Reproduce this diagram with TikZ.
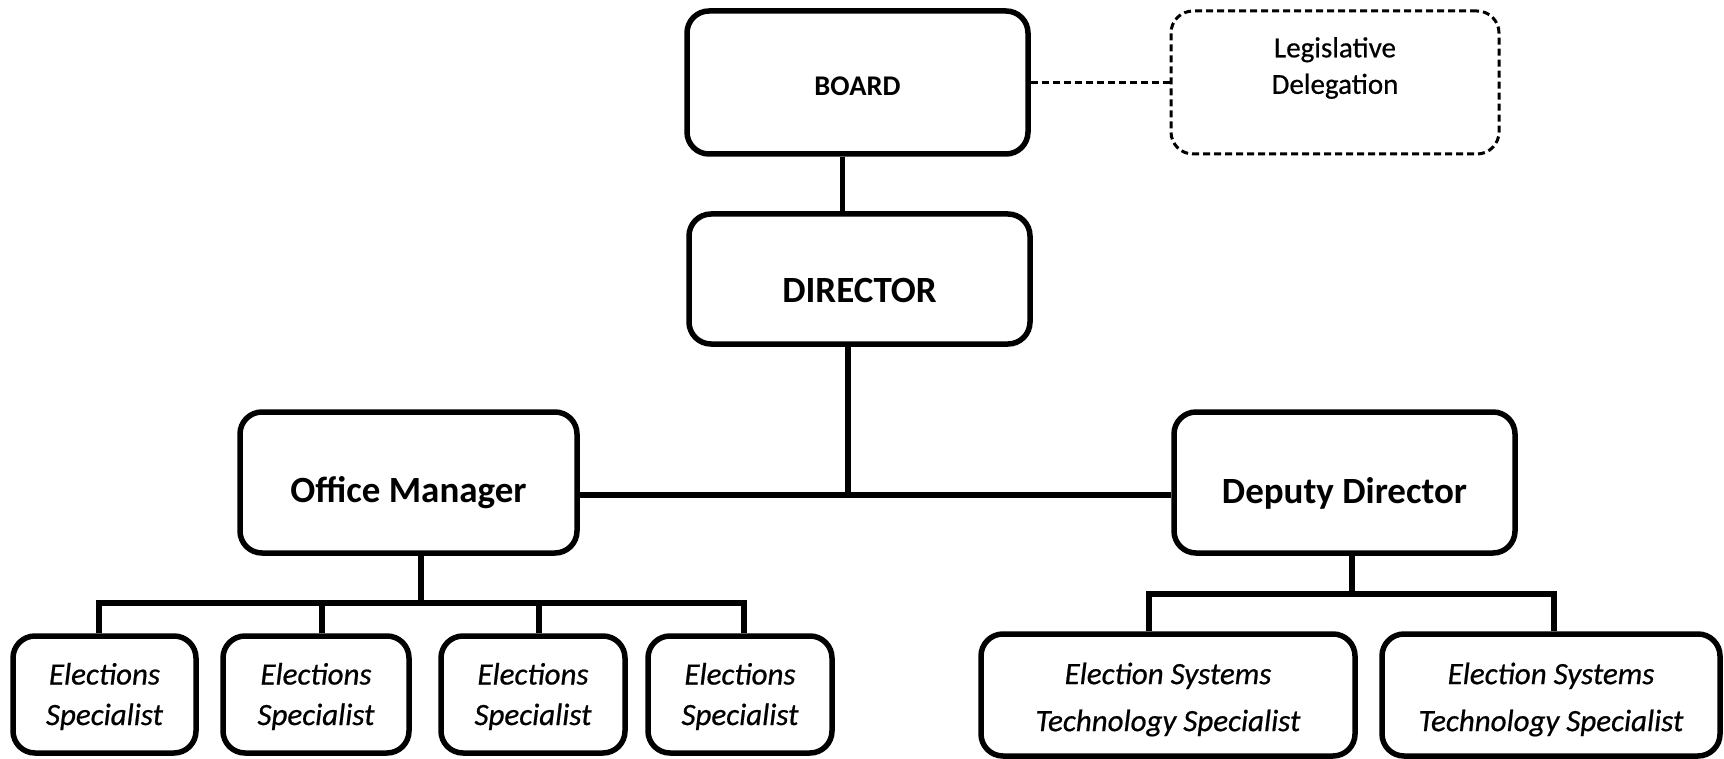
\documentclass[tikz,border=0pt]{standalone}
\usepackage{fontspec}
\setmainfont{Carlito}
\newfontfamily\heavyfont[FakeBold=0.6]{Carlito}
\begin{document}
\begin{tikzpicture}[x=1pt,y=-1pt,
  box/.style={draw=black, line width=5.5pt, rounded corners=22pt, inner sep=0pt},
  dashbox/.style={draw=black, line width=3pt, dash pattern=on 7pt off 4pt, rounded corners=22pt, inner sep=0pt},
  link/.style={draw=black, line width=5.5pt, line join=miter},
  dashlink/.style={draw=black, line width=3pt, dash pattern=on 7pt off 4pt},
  head/.style={inner sep=0pt, align=center, font=\fontsize{37}{44}\selectfont\bfseries},
  small head/.style={inner sep=0pt, align=center, font=\fontsize{28.5}{34}\selectfont\bfseries},
  note/.style={inner sep=0pt, align=center, font=\heavyfont\fontsize{29}{36.5}\selectfont},
  staff/.style={inner sep=0pt, align=center, font=\heavyfont\fontsize{31}{40.5}\selectfont\itshape},
  tech/.style={inner sep=0pt, align=center, font=\heavyfont\fontsize{31}{47}\selectfont\itshape}]
\useasboundingbox (0,0) rectangle (1724,759);

% boxes
\node[box, minimum width=341pt, minimum height=143pt] (board) at (857.5,82.5) {};
\node[dashbox, minimum width=328pt, minimum height=143pt] (leg) at (1335,82.5) {};
\node[box, minimum width=341pt, minimum height=130pt] (dir) at (859.5,279) {};
\node[box, minimum width=337pt, minimum height=141pt] (om) at (408.5,482.5) {};
\node[box, minimum width=341pt, minimum height=141pt] (dd) at (1344.5,482.5) {};
\node[box, minimum width=183pt, minimum height=117pt] (es1) at (104.5,694.5) {};
\node[box, minimum width=186pt, minimum height=117pt] (es2) at (316,694.5) {};
\node[box, minimum width=184pt, minimum height=117pt] (es3) at (533,694.5) {};
\node[box, minimum width=184pt, minimum height=117pt] (es4) at (740,694.5) {};
\node[box, minimum width=374pt, minimum height=122pt] (ests1) at (1168,695) {};
\node[box, minimum width=338pt, minimum height=122pt] (ests2) at (1551,695) {};

% labels
\node[small head] (board-t) at ([yshift=-4pt]board.center) {BOARD};
\node[note] (leg-t) at ([yshift=14.5pt]leg.center) {Legislative\\Delegation};
\node[head] (dir-t) at ([yshift=-11pt]dir.center) {DIRECTOR};
\node[head] (om-t) at ([yshift=-10.5pt]om.center) {Office Manager};
\node[head] (dd-t) at ([yshift=-11pt]dd.center) {Deputy Director};
\foreach \n in {es1,es2,es3,es4}
  \node[staff] (\n-t) at ([yshift=-2pt]\n.center) {Elections\\Specialist};
\foreach \n in {ests1,ests2}
  \node[tech] (\n-t) at ([yshift=-4.5pt]\n.center) {Election Systems\\Technology Specialist};

% junction points
\coordinate (hub) at (848,495);
\coordinate (omj) at (421,603);
\coordinate (d1) at (99,603);
\coordinate (d2) at (322,603);
\coordinate (d3) at (539,603);
\coordinate (d4) at (744,603);
\coordinate (ddj) at (1352,594);
\coordinate (t1) at (1149,594);
\coordinate (t2) at (1554,594);

% connectors
\draw[dashlink] (board.east) -- (leg.west);
\draw[link] ([xshift=-15pt]board.south) -- ([xshift=-15pt]board.south |- dir.north);
\draw[link] (dir.south -| hub) -- (hub);
\draw[link] (om.east |- hub) -- (dd.west |- hub);
\draw[link] (om.south -| omj) -- (omj);
\draw[link] (es1.north -| d1) -- (d1) -- (d4) -- (es4.north -| d4);
\draw[link] (d2) -- (es2.north -| d2);
\draw[link] (d3) -- (es3.north -| d3);
\draw[link] (dd.south -| ddj) -- (ddj);
\draw[link] (ests1.north -| t1) -- (t1) -- (t2) -- (ests2.north -| t2);
\end{tikzpicture}
\end{document}
